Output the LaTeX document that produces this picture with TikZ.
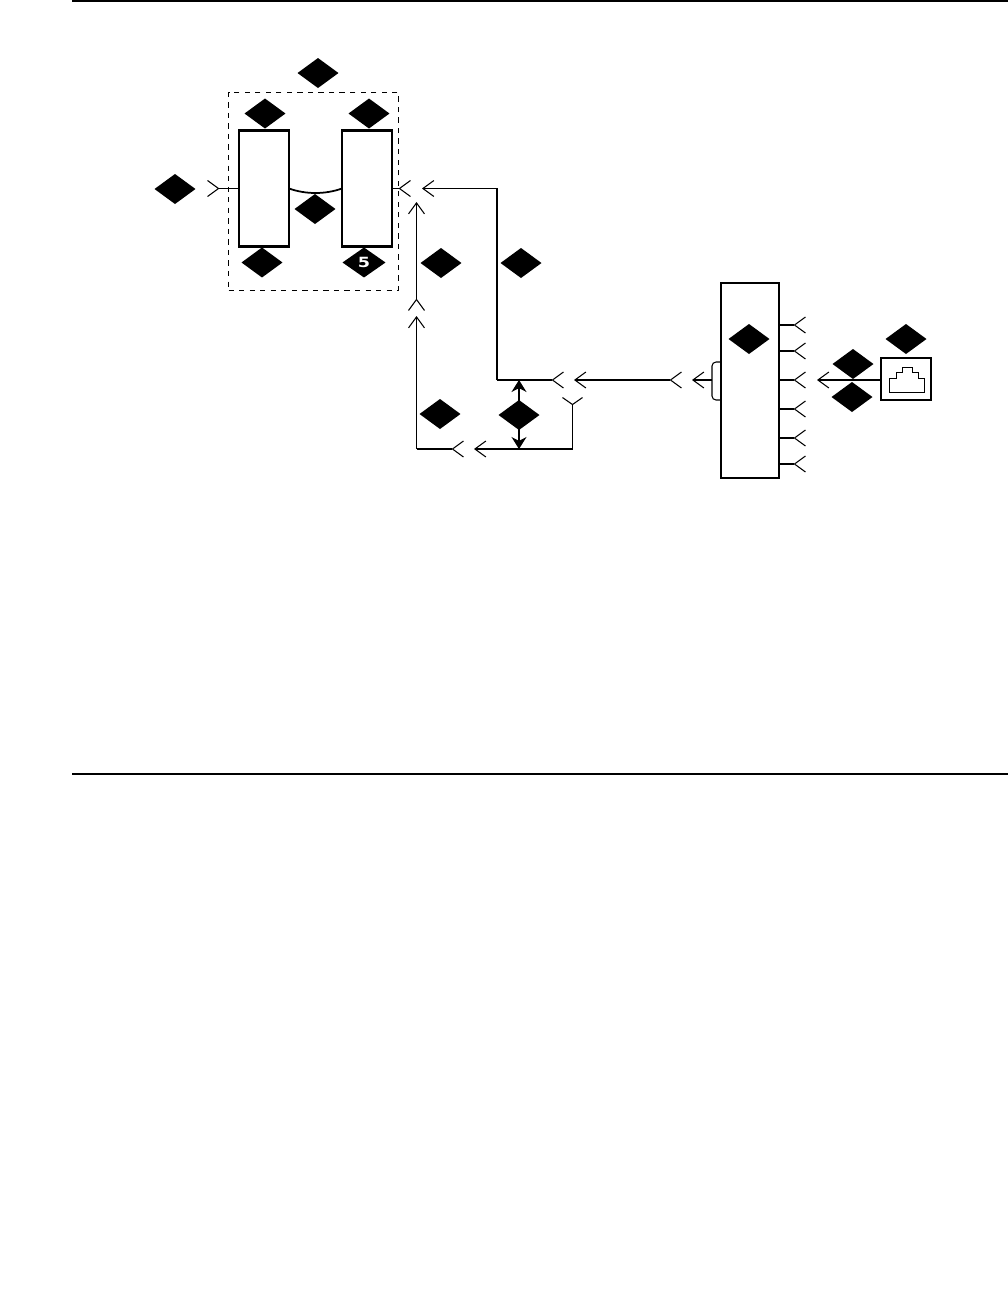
\documentclass[tikz,border=0pt]{standalone}
\usepackage{fontspec}
\setsansfont[FakeStretch=1.25]{DejaVu Sans}
\usetikzlibrary{arrows.meta,positioning,shapes.geometric}
\tikzstyle{marker} = [diamond, fill=black, minimum width=.82cm, minimum height=.6cm, inner sep=0pt, outer sep=0pt, text=white, font=\sffamily\bfseries\fontsize{8}{8}\selectfont]
\tikzstyle{unit} = [rectangle, draw=black, line width=1.2pt, inner sep=0pt, outer sep=0pt, minimum width=1cm, minimum height=2.32cm]
\tikzstyle{panel} = [rectangle, draw=black, line width=1.2pt, inner sep=0pt, outer sep=0pt, minimum width=1.16cm, minimum height=3.9cm]
\tikzstyle{jack} = [rectangle, draw=black, line width=1.2pt, inner sep=0pt, outer sep=0pt, minimum width=1cm, minimum height=.84cm]
\tikzstyle{group} = [rectangle, draw=black, dashed, line width=.5pt, inner sep=0pt, outer sep=0pt, minimum width=3.4cm, minimum height=3.96cm]
\tikzstyle{wire} = [line width=.6pt]
\tikzstyle{fork} = [wire, -{Straight Barb[length=.22cm,width=.32cm]}]
\tikzstyle{backfork} = [wire, -{Straight Barb[reversed,length=.22cm,width=.32cm]}]
\tikzstyle{bothfork} = [wire, {Straight Barb[length=.22cm,width=.32cm]}-{Straight Barb[reversed,length=.22cm,width=.32cm]}]
\tikzstyle{upfork} = [wire, -{Straight Barb[reversed,length=.14cm,width=.4cm]}]
\tikzstyle{span} = [wire, {Stealth[length=.24cm,width=.3cm]}-{Stealth[length=.24cm,width=.3cm]}]
\begin{document}
\begin{tikzpicture}[x=.02cm,y=-.02cm,node distance=.04cm]
    \useasboundingbox (0,0) rectangle (1008,1296);
    \draw[line width=1.1pt] (72,1) -- (1008,1);
    \draw[line width=1.1pt] (72,774) -- (1008,774);

    \node (group) [group] at (313.5,191) {};
    \node (boxa) [unit] at (264,188.5) {};
    \node (boxb) [unit] at (367,188.5) {};
    \node (panel) [panel] at (750,380.5) {};
    \node (jack) [jack] at (906,379) {};

    \node (mgroup) [marker, above=.08cm of group, xshift=.09cm] {};
    \node (mboxa) [marker, above=of boxa, xshift=.02cm] {};
    \node (mboxb) [marker, above=of boxb, xshift=.04cm] {};
    \node (mbasea) [marker, below=.02cm of boxa, xshift=-.04cm] {};
    \node (mbaseb) [marker, below=.02cm of boxb, xshift=-.06cm, minimum width=.86cm] {5};
    \node (mleft) [marker] at (175,189) {};
    \node (mlink) [marker] at (315,209) {};
    \node (mriser) [marker] at (441,263) {};
    \node (mfeed) [marker] at (521,263) {};
    \node (mlow) [marker] at (440,414) {};
    \node (mspan) [marker] at (519,415) {};
    \node (mpanel) [marker] at (749,339) {};
    \node (mjack) [marker] at (906,339) {};
    \node (mcorda) [marker] at (853,364) {};
    \node (mcordb) [marker] at (852,397) {};

    \coordinate (endleft) at (207,188.5);
    \coordinate (endright) at (411,188.5);
    \coordinate (tipfeed) at (422,188.5);
    \coordinate (cornerfeed) at (497,188.5);
    \coordinate (teefeed) at (497,380);
    \coordinate (endmain) at (564,380);
    \coordinate (tiptrunk) at (574,380);
    \coordinate (endtrunk) at (682,380);
    \coordinate (tipclip) at (692,380);
    \coordinate (clip) at (712,380);
    \coordinate (tiprisera) at (416.5,202);
    \coordinate (endriser) at (416.5,311);
    \coordinate (tipriserc) at (416.5,316);
    \coordinate (cornerriser) at (416.5,449);
    \coordinate (endlow) at (464,449);
    \coordinate (tiplowb) at (474,449);
    \coordinate (cornerlow) at (572.5,449);
    \coordinate (endup) at (572.5,397);
    \coordinate (spantop) at (519,380);
    \coordinate (spanbase) at (519,449);
    \coordinate (tipcord) at (817,380);

    \draw[backfork] (boxa.west) -- (endleft);
    \draw[wire, line width=1pt] (boxa.east) .. controls (306,194.5) and (325,194.5) .. (boxb.west);
    \draw[backfork] (boxb.east) -- (endright);
    \draw[fork] (teefeed) -- (cornerfeed) -- (tipfeed);
    \draw[backfork] (teefeed) -- (endmain);
    \draw[bothfork] (tiptrunk) -- (endtrunk);
    \draw[fork] (clip) -- (tipclip);
    \draw[wire, rounded corners=.08cm] (721,362) -- (712,362) -- (712,400) -- (721,400);
    \draw[bothfork] (tiprisera) -- (endriser);
    \draw[fork] (cornerriser) -- (tipriserc);
    \draw[backfork] (cornerriser) -- (endlow);
    \draw[fork] (cornerlow) -- (tiplowb);
    \draw[upfork] (cornerlow) -- (endup);
    \draw[span] (spantop) -- (spanbase);
    \draw[fork] (jack.west |- tipcord) -- (tipcord);

    \foreach \name/\y in {a/325,b/351,c/380,d/409,e/438,f/464} {
      \coordinate (endport\name) at (806,\y);
      \draw[backfork] (panel.east |- endport\name) -- (endport\name);
    }

    \draw[line width=.5pt] (889,392) -- (889,378) -- (896,378) -- (896,372) -- (902,372) -- (902,367) -- (912,367) -- (912,372) -- (918,372) -- (918,378) -- (924,378) -- (924,392) -- cycle;
\end{tikzpicture}
\end{document}
